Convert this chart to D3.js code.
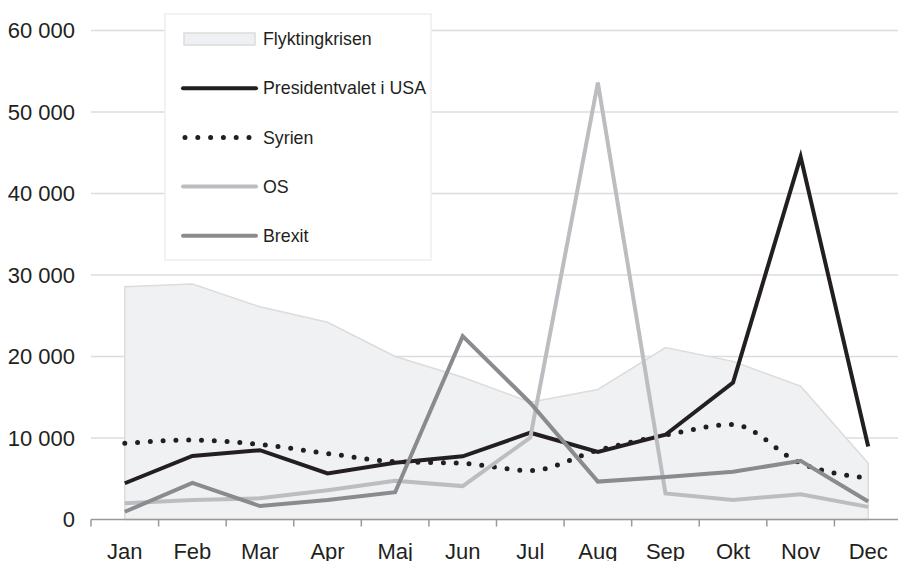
<!DOCTYPE html>
<html>
<head>
<meta charset="utf-8">
<script src="https://d3js.org/d3.v7.min.js"></script>
<style>
  body { margin: 0; background: #fff; }
  svg { display: block; font-family: "Liberation Sans", Arial, Helvetica, sans-serif; }
</style>
</head>
<body>
<div id="chart"></div>
<script>
// data
var months = ["Jan", "Feb", "Mar", "Apr", "Maj", "Jun", "Jul", "Aug", "Sep", "Okt", "Nov", "Dec"];
var flyktingkrisen = [28550, 28900, 26100, 24200, 20000, 17450, 14400, 15950, 21100, 19400, 16350, 6900];
var presidentvalet = [4450, 7800, 8500, 5650, 6950, 7750, 10650, 8300, 10400, 16800, 44500, 8950];
var syrien = [9350, 9750, 9200, 8100, 7100, 6900, 6000, 8500, 10350, 11650, 6900, 5050];
var os = [2000, 2400, 2600, 3600, 4750, 4100, 10050, 53600, 3200, 2400, 3100, 1550];
var brexit = [950, 4500, 1650, 2400, 3350, 22500, 14300, 4650, 5200, 5850, 7200, 2200];
var yTicks = [0, 10000, 20000, 30000, 40000, 50000, 60000];

var W = 898, H = 561;
var margin = {left: 91, right: 902, top: 30.5, bottom: 519.5};
var ink = "#231f20";

var svg = d3.select("#chart").append("svg")
  .attr("width", W)
  .attr("height", H);

var x = d3.scaleBand().domain(months).range([margin.left, margin.right]);
var y = d3.scaleLinear().domain([0, 60000]).range([margin.bottom, margin.top]);
var cx = function(m) { return x(m) + x.bandwidth() / 2; };

// gridlines
svg.append("g")
  .selectAll("line")
  .data(yTicks.slice(1))
  .enter().append("line")
    .attr("x1", margin.left).attr("x2", W)
    .attr("y1", function(d) { return y(d); })
    .attr("y2", function(d) { return y(d); })
    .attr("stroke", "#dcdcdc")
    .attr("stroke-width", 1.5);

// y labels
svg.append("g")
  .selectAll("text")
  .data(yTicks)
  .enter().append("text")
    .attr("x", 75)
    .attr("y", function(d) { return y(d); })
    .attr("dy", "0.35em")
    .attr("text-anchor", "end")
    .attr("fill", ink)
    .style("font-size", "22px")
    .text(function(d) { return d3.format(",")(d).replace(/,/g, " "); });

// area
var area = d3.area()
  .x(function(d, i) { return cx(months[i]); })
  .y0(y(0))
  .y1(function(d) { return y(d); });
svg.append("path")
  .datum(flyktingkrisen)
  .attr("d", area)
  .attr("fill", "#f0f1f3")
  .attr("stroke", "#dcdcdc")
  .attr("stroke-width", 1.5);

// lines
var series = [
  {name: "Presidentvalet i USA", values: presidentvalet, color: ink, width: 4, dash: null, curve: d3.curveLinear},
  {name: "Syrien", values: syrien, color: ink, width: 5, dash: "0,12.8", curve: d3.curveMonotoneX},
  {name: "OS", values: os, color: "#bcbdc0", width: 4, dash: null, curve: d3.curveLinear},
  {name: "Brexit", values: brexit, color: "#8a8b8e", width: 4, dash: null, curve: d3.curveLinear}
];

series.forEach(function(s) {
  var line = d3.line()
    .x(function(d, i) { return cx(months[i]); })
    .y(function(d) { return y(d); })
    .curve(s.curve);
  svg.append("path")
    .datum(s.values)
    .attr("d", line)
    .attr("fill", "none")
    .attr("stroke", s.color)
    .attr("stroke-width", s.width)
    .attr("stroke-linecap", s.dash ? "round" : "butt")
    .attr("stroke-linejoin", "miter")
    .attr("stroke-dasharray", s.dash);
});

// x axis
var xAxis = svg.append("g")
  .attr("transform", "translate(0," + margin.bottom + ")")
  .call(d3.axisBottom(x).tickSize(0).tickPadding(24));
xAxis.select(".domain").remove();
xAxis.selectAll("text")
  .attr("fill", ink)
  .style("font-size", "22px")
  .style("font-family", "'Liberation Sans', Arial, sans-serif");

svg.append("line")
  .attr("x1", margin.left).attr("x2", W)
  .attr("y1", margin.bottom).attr("y2", margin.bottom)
  .attr("stroke", "#999")
  .attr("stroke-width", 1.5);
svg.append("g")
  .selectAll("line")
  .data(months)
  .enter().append("line")
    .attr("x1", function(d) { return x(d); })
    .attr("x2", function(d) { return x(d); })
    .attr("y1", margin.bottom).attr("y2", margin.bottom + 7)
    .attr("stroke", "#999")
    .attr("stroke-width", 1.5);

// legend
var legend = svg.append("g");
legend.append("rect")
  .attr("x", 165).attr("y", 14)
  .attr("width", 266).attr("height", 246)
  .attr("fill", "#fff")
  .attr("stroke", "#eeeeee")
  .attr("stroke-width", 1.5);

var legendItems = [{name: "Flyktingkrisen"}].concat(series);
legendItems.forEach(function(s, i) {
  var ly = 39 + i * 49.2;
  if (i === 0) {
    legend.append("rect")
      .attr("x", 184).attr("y", ly - 6)
      .attr("width", 71).attr("height", 12)
      .attr("fill", "#eff0f3")
      .attr("stroke", "#dcdcdc")
      .attr("stroke-width", 1.5);
  } else {
    legend.append("line")
      .attr("x1", s.dash ? 185 : 183).attr("x2", 256)
      .attr("y1", ly).attr("y2", ly)
      .attr("stroke", s.color)
      .attr("stroke-width", s.width)
      .attr("stroke-linecap", "round")
      .attr("stroke-dasharray", s.dash);
  }
  legend.append("text")
    .attr("x", 263).attr("y", ly)
    .attr("dy", "0.35em")
    .attr("fill", ink)
    .style("font-size", "17.8px")
    .text(s.name);
});
</script>
</body>
</html>
